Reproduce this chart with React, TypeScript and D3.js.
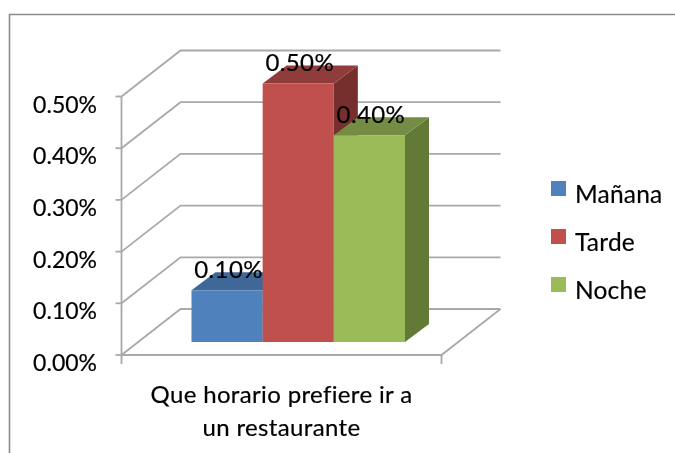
import React from 'react';
import * as d3 from 'd3';

const categories = ['Mañana', 'Tarde', 'Noche'];
const values = [0.1, 0.5, 0.4];
const yTicks = [0, 0.1, 0.2, 0.3, 0.4, 0.5];
const axisTitle = ['Que horario prefiere ir a', 'un restaurante'];
const frontColors = ['#4f81bd', '#c0504d', '#9bbb59'];
const topColors = ['#3f6797', '#8f3c3a', '#748c43'];
const sideColors = ['#305078', '#772f2d', '#637a37'];

const FONT = 'Lato, Carlito, sans-serif';
const GRID = '#a9a9a9';

// the "3d" box: front plane of the axis and how far back the wall sits
const wallDx = 59;
const wallDy = -46;
const barDx = 24;
const barDy = -18;
const floorY = 355;

const y = d3.scaleLinear().domain([0, 0.5]).range([floorY, 96.5]);
const x = d3.scaleBand().domain(categories).range([191.5, 405]).padding(0);
const pct = (v: number) => `${d3.format('.2f')(v)}%`;

const legendY = d3.scalePoint().domain(categories).range([188.5, 284.5]);

const App = () => {
  const plotLeft = 121.5;
  const plotRight = 441.5;
  // bars stand 13px behind the front of the floor
  const barBase = 13;

  return (
    <svg width={675} height={453} style={{ position: 'absolute', left: 0, top: 0 }} fontFamily={FONT}>
      <rect width={675} height={453} fill="#ffffff" />
      <g style={{ filter: 'blur(0.35px)' }}>
        <path d="M9.5,453V14.5H675" fill="none" stroke="#8c8c8c" strokeWidth={1.6} />

        {/* walls */}
        <g fill="none" stroke={GRID} strokeWidth={1.8}>
          {yTicks.map((t) => (
            <path key={t} d={`M${plotLeft},${y(t)}L${plotLeft + wallDx},${y(t) + wallDy}H${plotRight + wallDx}`} />
          ))}
          <path d={`M${plotLeft},${y(0)}H${plotRight}L${plotRight + wallDx},${y(0) + wallDy}`} />
          <path d={`M${plotLeft},${y(0.5)}V${y(0)}`} />
          {yTicks.map((t) => (
            <path key={t} d={`M${plotLeft - 6},${y(t)}H${plotLeft}`} />
          ))}
          <path d={`M${plotLeft},${y(0)}v9M${plotRight},${y(0)}v9`} />
        </g>

        {/* bars */}
        {categories.map((c, i) => {
          const x0 = x(c)!;
          const x1 = x0 + x.bandwidth();
          const bottom = y(0) - barBase;
          const top = y(values[i]) - barBase;
          return (
            <g key={c}>
              <path d={`M${x1},${top}l${barDx},${barDy}V${bottom + barDy}l${-barDx},${-barDy}Z`} fill={sideColors[i]} />
              <path d={`M${x0},${top}l${barDx},${barDy}H${x1 + barDx}l${-barDx},${-barDy}Z`} fill={topColors[i]} />
              <rect x={x0} y={top} width={x.bandwidth()} height={bottom - top} fill={frontColors[i]} />
            </g>
          );
        })}

        <g fill="#000" stroke="#000" strokeWidth={0.2}>
          {/* data labels */}
          {categories.map((c, i) => (
            <text
              key={c}
              x={x(c)! + x.bandwidth() / 2 + 1.5}
              y={y(values[i]) - barBase - 12.5}
              textAnchor="middle"
              fontSize={24}
              letterSpacing={0.4}
            >
              {pct(values[i])}
            </text>
          ))}

          {/* y labels */}
          {yTicks.map((t) => (
            <text key={t} x={97} y={y(t) + 16} textAnchor="end" fontSize={23}>
              {pct(t)}
            </text>
          ))}

          {/* category title */}
          {axisTitle.map((line, i) => (
            <text key={line} x={281.5} y={403 + i * 32.5} textAnchor="middle" fontSize={24} letterSpacing={0.35}>
              {line}
            </text>
          ))}

          {/* legend text */}
          {categories.map((c) => (
            <text key={c} x={575} y={legendY(c)! + 14} fontSize={24.5} letterSpacing={0.2}>
              {c}
            </text>
          ))}
        </g>

        {/* legend swatches */}
        {categories.map((c, i) => (
          <rect key={c} x={551} y={legendY(c)! - 7.5} width={15} height={15} fill={frontColors[i]} />
        ))}
      </g>
    </svg>
  );
};

export default App;
